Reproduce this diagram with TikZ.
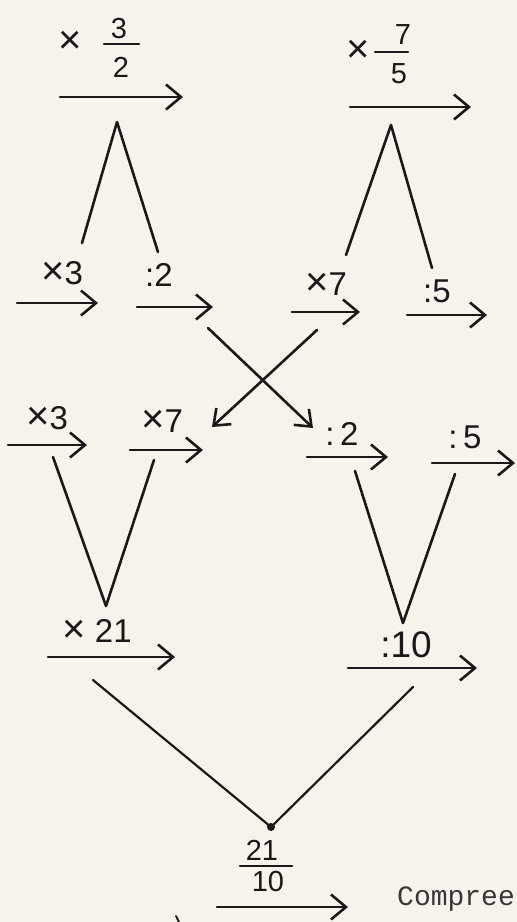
\documentclass[tikz,border=0pt]{standalone}
\usepackage{fontspec}
\setmainfont{Liberation Sans}
\newfontfamily\typew{Liberation Mono}
\usetikzlibrary{arrows.meta}
\definecolor{paper}{RGB}{245,243,236}
\definecolor{ink}{RGB}{25,25,25}
\definecolor{typeink}{RGB}{55,55,55}
\newcommand{\bigx}{{\fontsize{40}{40}\selectfont ×}}
\begin{document}
\begin{tikzpicture}[x=1pt,y=-1pt,
  inkline/.style={draw=ink,line width=2.6pt,line cap=round,line join=round},
  flow/.style={inkline,-{Straight Barb[length=15pt,width=25pt,line width=2.6pt]}},
  crossflow/.style={inkline,-{Straight Barb[length=14pt,width=22pt,line width=2.6pt]}},
  lbl/.style={text=ink,inner sep=0pt,font=\fontsize{33}{33}\selectfont},
  sml/.style={text=ink,inner sep=0pt,font=\fontsize{29}{29}\selectfont},
  tms/.style={text=ink,inner sep=0pt,font=\fontsize{40}{40}\selectfont}]
\fill[paper] (0,0) rectangle (517,922);
\useasboundingbox (0,0) rectangle (517,922);
\clip (0,0) rectangle (517,922);

% ---------- top row ----------
\node[tms] (tx1) at (70,42) {×};
\node[sml] (tn1) at (119,29) {3};
\coordinate (tb1a) at (104,44); \coordinate (tb1b) at (139,44);
\draw[inkline,line width=2.2pt] (tb1a) -- (tb1b);
\node[sml] (td1) at (121,67) {2};
\coordinate (t1s) at (60,97); \coordinate (t1e) at (183,97);
\draw[flow] (t1s) -- (t1e);

\node[tms] (tx2) at (358,51) {×};
\node[sml] (tn2) at (403,35) {7};
\coordinate (tb2a) at (375,52); \coordinate (tb2b) at (408,52);
\draw[inkline,line width=2.2pt] (tb2a) -- (tb2b);
\node[sml] (td2) at (399,74) {5};
\coordinate (t2s) at (350,107); \coordinate (t2e) at (471,107);
\draw[flow] (t2s) -- (t2e);

% lambdas
\coordinate (la1) at (82,243); \coordinate (lp1) at (117,122); \coordinate (lb1) at (158,252);
\draw[inkline] (la1) -- (lp1) -- (lb1);
\coordinate (la2) at (346,255); \coordinate (lp2) at (391,125); \coordinate (lb2) at (432,268);
\draw[inkline] (la2) -- (lp2) -- (lb2);

% ---------- second row ----------
\node[lbl] (r2a) at (62,273) {\bigx3};
\coordinate (r2as) at (17,303); \coordinate (r2ae) at (98,303);
\draw[flow] (r2as) -- (r2ae);
\node[lbl] (r2b) at (159,275) {:2};
\coordinate (r2bs) at (137,307); \coordinate (r2be) at (213,307);
\draw[flow] (r2bs) -- (r2be);
\node[lbl] (r2c) at (326,284) {\bigx7};
\coordinate (r2cs) at (292,312); \coordinate (r2ce) at (360,312);
\draw[flow] (r2cs) -- (r2ce);
\node[lbl] (r2d) at (437,291) {:5};
\coordinate (r2ds) at (407,315); \coordinate (r2de) at (487,315);
\draw[flow] (r2ds) -- (r2de);

% crossing arrows
\coordinate (c1s) at (208,328); \coordinate (c1e) at (313,428);
\draw[crossflow] (c1s) -- (c1e);
\coordinate (c2s) at (317,330); \coordinate (c2e) at (212,427);
\draw[crossflow] (c2s) -- (c2e);

% ---------- third row ----------
\node[lbl] (r3a) at (47,418) {\bigx3};
\coordinate (r3as) at (8,445); \coordinate (r3ae) at (87,445);
\draw[flow] (r3as) -- (r3ae);
\node[lbl] (r3b) at (162,421) {\bigx7};
\coordinate (r3bs) at (130,450); \coordinate (r3be) at (203,450);
\draw[flow] (r3bs) -- (r3be);
\node[lbl] (r3c) at (342,434) {:\,2};
\coordinate (r3cs) at (307,457); \coordinate (r3ce) at (388,457);
\draw[flow] (r3cs) -- (r3ce);
\node[lbl] (r3d) at (465,437) {:\,5};
\coordinate (r3ds) at (432,463); \coordinate (r3de) at (515,463);
\draw[flow] (r3ds) -- (r3de);

% V shapes
\coordinate (v1a) at (53,457); \coordinate (v1p) at (106,606); \coordinate (v1b) at (154,460);
\draw[inkline] (v1a) -- (v1p) -- (v1b);
\coordinate (v2a) at (355,471); \coordinate (v2p) at (403,623); \coordinate (v2b) at (455,474);
\draw[inkline] (v2a) -- (v2p) -- (v2b);

% ---------- fourth row ----------
\node[lbl] (r4a) at (97,631) {\bigx\ 21};
\coordinate (r4as) at (48,657); \coordinate (r4ae) at (175,657);
\draw[flow] (r4as) -- (r4ae);
\node[lbl,font=\fontsize{37}{37}\selectfont] (r4b) at (406,645) {:10};
\coordinate (r4bs) at (348,668); \coordinate (r4be) at (477,668);
\draw[flow] (r4bs) -- (r4be);

% bottom V
\coordinate (dot) at (271,827);
\coordinate (bv1) at (93,680); \coordinate (bv2) at (413,687);
\draw[inkline,line width=2.2pt] (bv1) -- (dot);
\draw[inkline,line width=2.2pt] (bv2) -- (dot);
\fill[ink] (dot) circle (4);

% bottom fraction and arrow
\node[sml] (bn) at (262,850) {21};
\coordinate (bba) at (240,866); \coordinate (bbb) at (292,866);
\draw[inkline,line width=2.2pt] (bba) -- (bbb);
\node[sml] (bd) at (268,882) {10};
\coordinate (bs) at (217,907); \coordinate (be) at (348,907);
\draw[flow] (bs) -- (be);

% stray mark at lower edge
\coordinate (m1) at (176,916); \coordinate (m2) at (179,922);
\draw[inkline,line width=2pt] (m1) -- (m2);

% typewritten text
\node[anchor=base west,inner sep=0pt,text=typeink,font=\typew\fontsize{28}{28}\selectfont] (txt) at (397,905) {Compree};
\end{tikzpicture}
\end{document}
